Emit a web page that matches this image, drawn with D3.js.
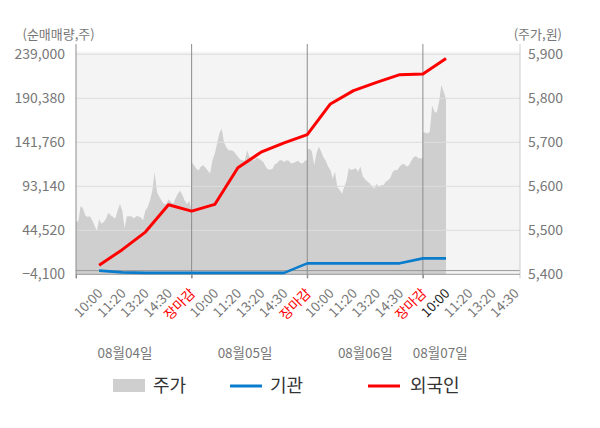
<!DOCTYPE html>
<html>
<head>
<meta charset="utf-8">
<script src="https://cdn.jsdelivr.net/npm/d3@7"></script>
<style>
	body { margin: 0; background: #fff; }
	svg { display: block; }
	svg text { font-family: "Noto Sans CJK KR", "Noto Sans", sans-serif; }
</style>
</head>
<body>
<div id="root"></div>
<script>
// x axis: one slot per tick label, 5 slots per trading day
const tickLabels = ["10:00", "11:20", "13:20", "14:30", "장마감",
	"10:00", "11:20", "13:20", "14:30", "장마감",
	"10:00", "11:20", "13:20", "14:30", "장마감",
	"10:00", "11:20", "13:20", "14:30"];
const dates = ["08월04일", "08월05일", "08월06일", "08월07일"];

const leftTicks = [-4100, 44520, 93140, 141760, 190380, 239000];
const rightTicks = [5400, 5500, 5600, 5700, 5800, 5900];

// net buying, one value per slot starting at the first 10:00
const foreignNet = [5800, 23150, 42560, 72800, 65700, 73110, 113600, 130800, 141160,
	150300, 184150, 198850, 208000, 216500, 217300, 234400];
const instNet = [0, -2000, -2500, -2500, -2500, -2500, -2500, -2500, -2500,
	8000, 8000, 8000, 8000, 8000, 13500, 13500];

// price, 10 samples per slot
const priceDay1 = [5520, 5520, 5555, 5550, 5534, 5530, 5532, 5523, 5511, 5498,
	5525, 5515, 5519, 5527, 5540, 5534, 5530, 5527, 5545, 5560,
	5545, 5505, 5532, 5532, 5532, 5527, 5532, 5532, 5529, 5523,
	5545, 5553, 5568, 5590, 5632, 5587, 5576, 5568, 5560, 5560,
	5570, 5565, 5560, 5572, 5583, 5590, 5580, 5568, 5560, 5567, 5545];
const priceDay2 = [5655, 5648, 5640, 5636, 5645, 5648, 5642, 5636, 5629, 5659,
	5674, 5697, 5720, 5731, 5700, 5689, 5682, 5682, 5680, 5674,
	5667, 5661, 5659, 5658, 5682, 5667, 5659, 5659, 5665, 5663,
	5659, 5655, 5645, 5638, 5638, 5640, 5650, 5653, 5659, 5659,
	5655, 5659, 5658, 5652, 5653, 5655, 5658, 5653, 5652, 5658, 5659];
const priceDay3 = [5683, 5686, 5679, 5648, 5675, 5690, 5679, 5666, 5658, 5645,
	5637, 5618, 5633, 5598, 5592, 5583, 5599, 5614, 5641, 5637,
	5639, 5641, 5633, 5645, 5623, 5616, 5611, 5607, 5599, 5595,
	5605, 5599, 5603, 5603, 5611, 5614, 5620, 5633, 5637, 5637,
	5645, 5650, 5650, 5645, 5648, 5658, 5666, 5669, 5664, 5664, 5664];
const priceDay4 = [5722, 5722, 5720, 5724, 5783, 5770, 5767, 5792, 5830, 5815, 5798];

const priceDays = [priceDay1, priceDay2, priceDay3, priceDay4];

const width = 600, height = 428;
const plot = { left: 76, right: 520, top: 54.3, bottom: 274.3 };
const gray = "#777";
const font = "'Noto Sans CJK KR', 'Noto Sans', sans-serif";

const x = d3.scaleLinear().domain([0, 19.2]).range([plot.left, plot.right]);
const yL = d3.scaleLinear().domain([-4100, 239000]).range([plot.bottom, plot.top]);
const yR = d3.scaleLinear().domain([5400, 5900]).range([plot.bottom, plot.top]);

const svg = d3.select("#root")
	.append("svg")
		.attr("width", width)
		.attr("height", height);

// plot background
svg.append("rect")
	.attr("x", plot.left)
	.attr("y", plot.top - 2.6)
	.attr("width", plot.right - plot.left)
	.attr("height", plot.bottom - plot.top + 2.6)
	.attr("fill", "#f4f4f4");

// price area
const pricePoints = [];
priceDays.forEach((arr, d) => {
	arr.forEach((p, k) => pricePoints.push({ slot: d * 5 + k / 10, price: p }));
});

const area = d3.area()
	.x(d => x(d.slot))
	.y0(yR(5400))
	.y1(d => yR(d.price));

svg.append("path")
	.datum(pricePoints)
	.attr("d", area)
	.attr("fill", "#cfcfcf");

// horizontal grid
svg.append("g")
	.selectAll("line")
	.data(leftTicks.slice(1))
		.enter()
	.append("line")
		.attr("x1", plot.left)
		.attr("x2", plot.right)
		.attr("y1", d => yL(d))
		.attr("y2", d => yL(d))
		.attr("stroke", "#dcdcdc")
		.attr("stroke-width", 1);

// zero line of net buying
svg.append("line")
	.attr("x1", plot.left).attr("x2", plot.right)
	.attr("y1", yL(0)).attr("y2", yL(0))
	.attr("stroke", "#999");

// day separators + frame
const separators = [0, 5, 10, 15];
svg.append("g")
	.selectAll("line")
	.data(separators)
		.enter()
	.append("line")
		.attr("x1", d => x(d))
		.attr("x2", d => x(d))
		.attr("y1", 44)
		.attr("y2", plot.bottom + 4)
		.attr("stroke", "#8c8c8c");

svg.append("line")
	.attr("x1", plot.right).attr("x2", plot.right)
	.attr("y1", 44).attr("y2", plot.bottom + 4)
	.attr("stroke", "#cfcfcf");

svg.append("line")
	.attr("x1", plot.left).attr("x2", plot.right)
	.attr("y1", plot.bottom).attr("y2", plot.bottom)
	.attr("stroke", "#999");

// net buying lines
const netLine = (values, color, w) => {
	const line = d3.line()
		.x((d, i) => x(i + 1))
		.y(d => yL(d));
	svg.append("path")
		.datum(values)
		.attr("d", line)
		.attr("fill", "none")
		.attr("stroke", color)
		.attr("stroke-width", w)
		.attr("stroke-linejoin", "round");
};
netLine(instNet, "#0a7ccc", 2.6);
netLine(foreignNet, "#ff0000", 3);

// left axis
const leftAxis = svg.append("g")
	.attr("transform", `translate(${plot.left},0)`)
	.call(d3.axisLeft(yL).tickValues(leftTicks).tickFormat(d3.format(",")).tickSize(0).tickPadding(11))
	.attr("font-family", font)
	.attr("font-size", 14);
leftAxis.select(".domain").remove();
leftAxis.selectAll("text").attr("fill", gray);

// right axis
const rightAxis = svg.append("g")
	.attr("transform", `translate(${plot.right},0)`)
	.call(d3.axisRight(yR).tickValues(rightTicks).tickFormat(d3.format(",")).tickSize(0).tickPadding(8))
	.attr("font-family", font)
	.attr("font-size", 14);
rightAxis.select(".domain").remove();
rightAxis.selectAll("text").attr("fill", gray);

// bottom axis labels
const tickSlots = tickLabels.map((t, i) => i + 1);
const bottomAxis = svg.append("g")
	.attr("transform", `translate(0,${plot.bottom})`)
	.call(d3.axisBottom(x).tickValues(tickSlots).tickFormat((d, i) => tickLabels[i]).tickSize(0))
	.attr("font-family", font)
	.attr("font-size", 13.5);
bottomAxis.select(".domain").remove();
bottomAxis.selectAll("text")
	.attr("text-anchor", "end")
	.attr("y", 0)
	.attr("dy", 0)
	.attr("transform", "translate(4,20) rotate(-45)")
	.attr("fill", (d, i) => tickLabels[i] === "장마감" ? "#ff0000" : (i === 15 ? "#222" : gray));

// separator tick marks
svg.append("g")
	.attr("transform", `translate(0,${plot.bottom})`)
	.call(d3.axisBottom(x).tickValues(separators).tickSize(4).tickFormat(""))
	.call(g => g.select(".domain").remove())
	.selectAll("line").attr("stroke", "#8c8c8c");

// date labels
const dateSlots = [2.12, 7.31, 12.51, 15.75];
svg.append("g")
	.selectAll("text")
	.data(dates)
		.enter()
	.append("text")
		.attr("x", (d, i) => x(dateSlots[i]))
		.attr("y", 353)
		.attr("dy", "0.35em")
		.attr("text-anchor", "middle")
		.attr("fill", gray)
		.style("font-size", "13.5px")
		.text(d => d);

// axis titles
svg.append("text")
	.attr("x", 22.5).attr("y", 34).attr("dy", "0.35em")
	.attr("fill", gray).style("font-size", "13px")
	.text("(순매매량,주)");
svg.append("text")
	.attr("x", 562).attr("y", 34).attr("dy", "0.35em")
	.attr("text-anchor", "end")
	.attr("fill", gray).style("font-size", "13px")
	.text("(주가,원)");

// legend
const legend = svg.append("g").attr("transform", "translate(0,386)");
legend.append("rect")
	.attr("x", 113).attr("y", -7).attr("width", 32).attr("height", 13)
	.attr("fill", "#cfcfcf");
legend.append("line")
	.attr("x1", 230).attr("x2", 262).attr("stroke", "#0a7ccc").attr("stroke-width", 3);
legend.append("line")
	.attr("x1", 368).attr("x2", 400).attr("stroke", "#ff0000").attr("stroke-width", 3);
const legendItems = [["주가", 153], ["기관", 270], ["외국인", 410]];
legend.selectAll("text")
	.data(legendItems)
		.enter()
	.append("text")
		.attr("x", d => d[1])
		.attr("dy", "0.35em")
		.attr("fill", "#333")
		.style("font-size", "18px")
		.text(d => d[0]);
</script>
</body>
</html>
